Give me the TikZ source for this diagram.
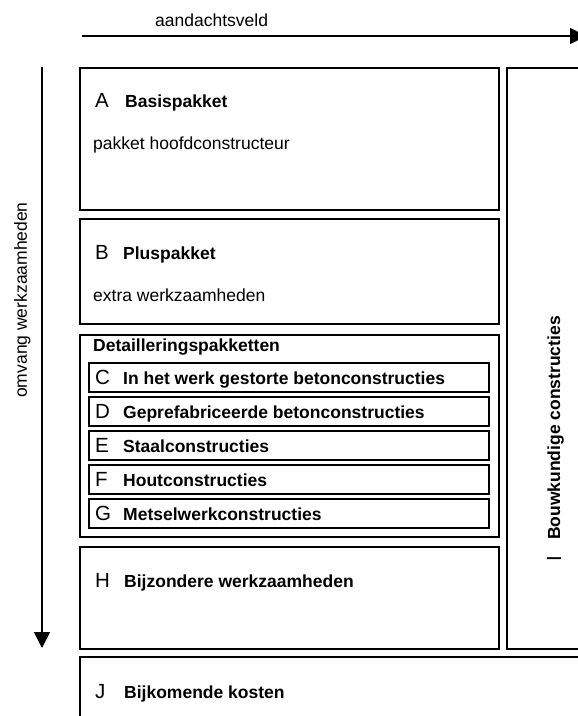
\documentclass[tikz,border=0pt]{standalone}
\usepackage{fontspec}
\setmainfont{Liberation Sans}
\usetikzlibrary{arrows.meta}
\newcommand{\regfont}{\fontsize{17.5}{21}\selectfont}
\newcommand{\boldfont}{\fontsize{17.5}{21}\selectfont\bfseries}
\newcommand{\letfont}{\fontsize{20.5}{24}\selectfont}

\begin{document}
\begin{tikzpicture}[x=1pt, y=-1pt,
  box/.style={draw, line width=1.6pt, outer sep=0pt, inner sep=0pt, anchor=north west},
  letter/.style={font=\letfont, inner sep=0pt, anchor=base west},
  title/.style={font=\boldfont, inner sep=0pt, anchor=base west},
  plain/.style={font=\regfont, inner sep=0pt, anchor=base west},
  axis/.style={line width=1.8pt, -{Triangle[length=16pt,width=16pt]}}]

% Page
\useasboundingbox (0,0) rectangle (578,716);
\clip (0,0) rectangle (578,716);

% Axes
\coordinate (hstart) at (82,36);
\coordinate (hend) at (586,36);
\draw[axis] (hstart) -- (hend);
\node[plain] (aandacht) at (155,26) {aandachtsveld};
\coordinate (vstart) at (42,67);
\coordinate (vend) at (42,648);
\draw[axis] (vstart) -- (vend);
\node[plain, rotate=90, anchor=base] (omvang) at (27,300) {omvang werkzaamheden};

% A: basispakket
\node[box, minimum width=419, minimum height=142] (basis) at (80,68) {};
\node[letter] (letA) at (95,107) {A};
\node[title] (txtA) at (125,107) {Basispakket};
\node[plain] (subA) at (93,149) {pakket hoofdconstructeur};

% B: pluspakket
\node[box, minimum width=419, minimum height=105] (plus) at (80,219) {};
\node[letter] (letB) at (95,259) {B};
\node[title] (txtB) at (123,259) {Pluspakket};
\node[plain] (subB) at (93,301) {extra werkzaamheden};

% Detailleringspakketten C to G
\node[box, minimum width=419, minimum height=202] (detail) at (80,335) {};
\node[title] (txtDetail) at (93,351) {Detailleringspakketten};
\foreach \l/\t [count=\i from 0] in {
  C/In het werk gestorte betonconstructies,
  D/Geprefabriceerde betonconstructies,
  E/Staalconstructies,
  F/Houtconstructies,
  G/Metselwerkconstructies} {
  \node[box, minimum width=400, minimum height=29] (pak\l) at (89,363+34*\i) {};
  \node[letter] (let\l) at (95,384+34*\i) {\l};
  \node[title] (txt\l) at (123,384+34*\i) {\t};
}

% H: bijzondere werkzaamheden
\node[box, minimum width=419, minimum height=102] (bijzonder) at (80,547) {};
\node[letter] (letH) at (95,587) {H};
\node[title] (txtH) at (124,587) {Bijzondere werkzaamheden};

% I: bouwkundige constructies (right column)
\node[box, minimum width=100, minimum height=581] (bouwk) at (507,68) {};
\node[letter, rotate=90] (letI) at (561,562) {I};
\node[title, rotate=90] (txtI) at (560,540) {Bouwkundige constructies};

% J: bijkomende kosten
\node[box, minimum width=530, minimum height=90] (bijkomend) at (80,657) {};
\node[letter] (letJ) at (95,698) {J};
\node[title] (txtJ) at (124,698) {Bijkomende kosten};

\end{tikzpicture}
\end{document}
